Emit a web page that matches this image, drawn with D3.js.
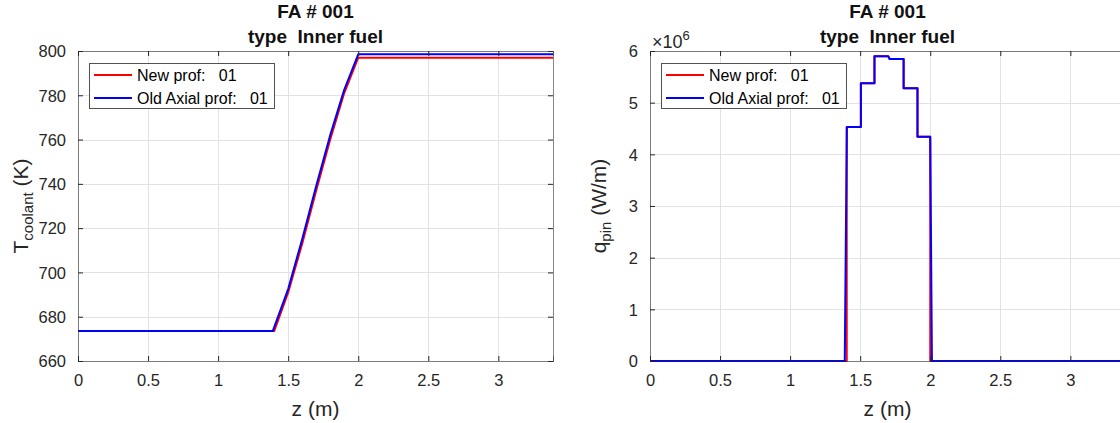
<!DOCTYPE html>
<html>
<head>
<meta charset="utf-8">
<script src="https://cdn.jsdelivr.net/npm/d3@7"></script>
<style>
  html, body { margin: 0; padding: 0; background: #fff; overflow: hidden; }
  svg { display: block; font-family: "Liberation Sans", Arial, Helvetica, sans-serif; }
</style>
</head>
<body>
<svg id="fig" width="1120" height="423"></svg>
<script>
// ---- data ----------------------------------------------------------
const titleLines = ["FA # 001", "type  Inner fuel"];
const legendLabels = ["New prof:   01", "Old Axial prof:   01"];
const seriesColors = ["#ff0000", "#0000ff"];

const zTicks = [0, 0.5, 1, 1.5, 2, 2.5, 3];
const tTicks = [660, 680, 700, 720, 740, 760, 780, 800];
const qTicks = [0, 1e6, 2e6, 3e6, 4e6, 5e6, 6e6];

// coolant temperature along the assembly (K)
const zCoolNew = [0, 1.40, 1.50, 1.60, 1.70, 1.80, 1.90, 2.00, 3.39];
const tCoolNew = [673.5, 673.5, 691, 713, 737, 760, 781, 797, 797];
const zCoolOld = [0, 1.39, 1.50, 1.60, 1.70, 1.80, 1.90, 2.00, 3.39];
const tCoolOld = [673.5, 673.5, 692.5, 715, 739, 762, 782.5, 798.5, 798.5];

// linear pin power (W/m)
const zPinNew = [0, 1.404, 1.404, 1.505, 1.505, 1.602, 1.602, 1.700, 1.710, 1.810, 1.810, 1.909, 1.909, 2.000, 2.000, 3.39];
const qPinNew = [0, 0, 4.53e6, 4.53e6, 5.375e6, 5.375e6, 5.90e6, 5.90e6, 5.845e6, 5.845e6, 5.28e6, 5.28e6, 4.34e6, 4.34e6, 0, 0];
const zPinOld = [0, 1.390, 1.405, 1.505, 1.505, 1.602, 1.602, 1.700, 1.710, 1.810, 1.810, 1.909, 1.909, 2.000, 2.012, 3.39];
const qPinOld = [0, 0, 4.53e6, 4.53e6, 5.375e6, 5.375e6, 5.90e6, 5.90e6, 5.845e6, 5.845e6, 5.28e6, 5.28e6, 4.34e6, 4.34e6, 0, 0];

// ---- drawing -------------------------------------------------------
const svg = d3.select("#fig");
const ink = "#262626";
const zip = (xs, ys) => xs.map((x, i) => [x, ys[i]]);

function panel(opt) {
  const { left, top, width, height } = opt;
  const g = svg.append("g");
  const x = d3.scaleLinear().domain([0, 3.39]).range([left, left + width]);
  const y = d3.scaleLinear().domain(opt.yDomain).range([top + height, top]);

  // grid
  g.append("g").selectAll("line.gx").data(zTicks).join("line")
    .attr("x1", d => Math.round(x(d)) + 0.5).attr("x2", d => Math.round(x(d)) + 0.5)
    .attr("y1", top).attr("y2", top + height)
    .attr("stroke", "#e2e2e2").attr("stroke-width", 1);
  g.append("g").selectAll("line.gy").data(opt.yTicks).join("line")
    .attr("y1", d => Math.round(y(d)) + 0.5).attr("y2", d => Math.round(y(d)) + 0.5)
    .attr("x1", left).attr("x2", left + width)
    .attr("stroke", "#e2e2e2").attr("stroke-width", 1);

  // data lines
  const clipId = "clip" + opt.id;
  svg.append("clipPath").attr("id", clipId).append("rect")
    .attr("x", left - 1).attr("y", top - 2).attr("width", width + 2).attr("height", height + 4);
  const line = d3.line().x(d => x(d[0])).y(d => y(d[1]));
  const lg = g.append("g").attr("clip-path", `url(#${clipId})`);
  opt.series.forEach((s, i) => {
    lg.append("path").datum(s).attr("d", line)
      .attr("fill", "none").attr("stroke", seriesColors[i])
      .attr("stroke-width", 2).attr("stroke-linejoin", "round");
  });

  // axes: inward ticks on all four sides, box outline
  const tick = 5;
  const axB = d3.axisBottom(x).tickValues(zTicks).tickSize(-tick).tickPadding(tick + 8)
    .tickFormat(d3.format("~g"));
  const axT = d3.axisTop(x).tickValues(zTicks).tickSize(-tick).tickFormat("");
  const axL = d3.axisLeft(y).tickValues(opt.yTicks).tickSize(-tick).tickPadding(tick + 7)
    .tickFormat(opt.yFormat);
  const axR = d3.axisRight(y).tickValues(opt.yTicks).tickSize(-tick).tickFormat("");

  const styleAxis = sel => {
    sel.select(".domain").attr("stroke", ink).attr("stroke-width", 1).attr("stroke-opacity", 0.55);
    sel.selectAll(".tick line").attr("stroke", ink).attr("stroke-width", 1);
    sel.selectAll(".tick text").attr("fill", ink).attr("font-size", 16.5)
      .attr("font-family", "Liberation Sans, Arial, sans-serif");
  };
  const gB = g.append("g").attr("transform", `translate(0,${top + height})`).call(axB).call(styleAxis);
  g.append("g").attr("transform", `translate(0,${top})`).call(axT).call(styleAxis);
  const gL = g.append("g").attr("transform", `translate(${left},0)`).call(axL).call(styleAxis);
  g.append("g").attr("transform", `translate(${left + width},0)`).call(axR).call(styleAxis);
  gB.selectAll(".tick text").attr("dy", "0.71em");
  gL.selectAll(".tick text").attr("dy", "0.35em");

  // titles
  const cx = left + width / 2;
  titleLines.forEach((t, i) => {
    svg.append("text").attr("x", cx).attr("y", 18 + i * 25)
      .attr("text-anchor", "middle").attr("font-weight", "bold").attr("font-size", 19)
      .attr("fill", "#111").attr("xml:space", "preserve").style("white-space", "pre").text(t);
  });

  // x label
  svg.append("text").attr("x", cx).attr("y", 416).attr("text-anchor", "middle")
    .attr("font-size", 21).attr("fill", ink).text("z (m)");

  // y label with subscript
  const yl = svg.append("text")
    .attr("transform", `translate(${opt.yLabelX},${top + height / 2}) rotate(-90)`)
    .attr("text-anchor", "middle").attr("font-size", 21).attr("fill", ink);
  yl.append("tspan").text(opt.yLabel[0]);
  yl.append("tspan").attr("font-size", 15).attr("dy", 5).text(opt.yLabel[1]);
  yl.append("tspan").attr("dy", -5).attr("xml:space", "preserve").style("white-space", "pre").text(" " + opt.yLabel[2]);

  // legend
  const lx = left + 11, ly = top + 12, lw = 185, lh = 45;
  const leg = svg.append("g");
  leg.append("rect").attr("x", lx + 0.5).attr("y", ly + 0.5).attr("width", lw).attr("height", lh)
    .attr("fill", "#fff").attr("stroke", ink).attr("stroke-opacity", 0.8).attr("stroke-width", 1);
  legendLabels.forEach((t, i) => {
    const yy = ly + 12 + i * 23;
    leg.append("line").attr("x1", lx + 5).attr("x2", lx + 43).attr("y1", yy).attr("y2", yy)
      .attr("stroke", seriesColors[i]).attr("stroke-width", 2);
    leg.append("text").attr("x", lx + 48).attr("y", yy).attr("dy", "0.35em")
      .attr("font-size", 16).attr("fill", "#000").attr("xml:space", "preserve")
      .style("white-space", "pre").text(t);
  });

  if (opt.exponent) {
    const ex = svg.append("text").attr("x", left + 2).attr("y", top - 3)
      .attr("font-size", 18).attr("fill", ink);
    ex.append("tspan").text("\u00d710");
    ex.append("tspan").attr("font-size", 13).attr("dy", -8).text(opt.exponent);
  }
}

panel({
  id: "T", left: 78, top: 51, width: 475, height: 310,
  yDomain: [660, 800], yTicks: tTicks, yFormat: d3.format("d"),
  series: [zip(zCoolNew, tCoolNew), zip(zCoolOld, tCoolOld)],
  yLabel: ["T", "coolant", "(K)"], yLabelX: 28
});

panel({
  id: "Q", left: 650, top: 51, width: 475, height: 310,
  yDomain: [0, 6e6], yTicks: qTicks, yFormat: d => d3.format("d")(d / 1e6),
  series: [zip(zPinNew, qPinNew), zip(zPinOld, qPinOld)],
  yLabel: ["q", "pin", "(W/m)"], yLabelX: 606, exponent: "6"
});
</script>
</body>
</html>
